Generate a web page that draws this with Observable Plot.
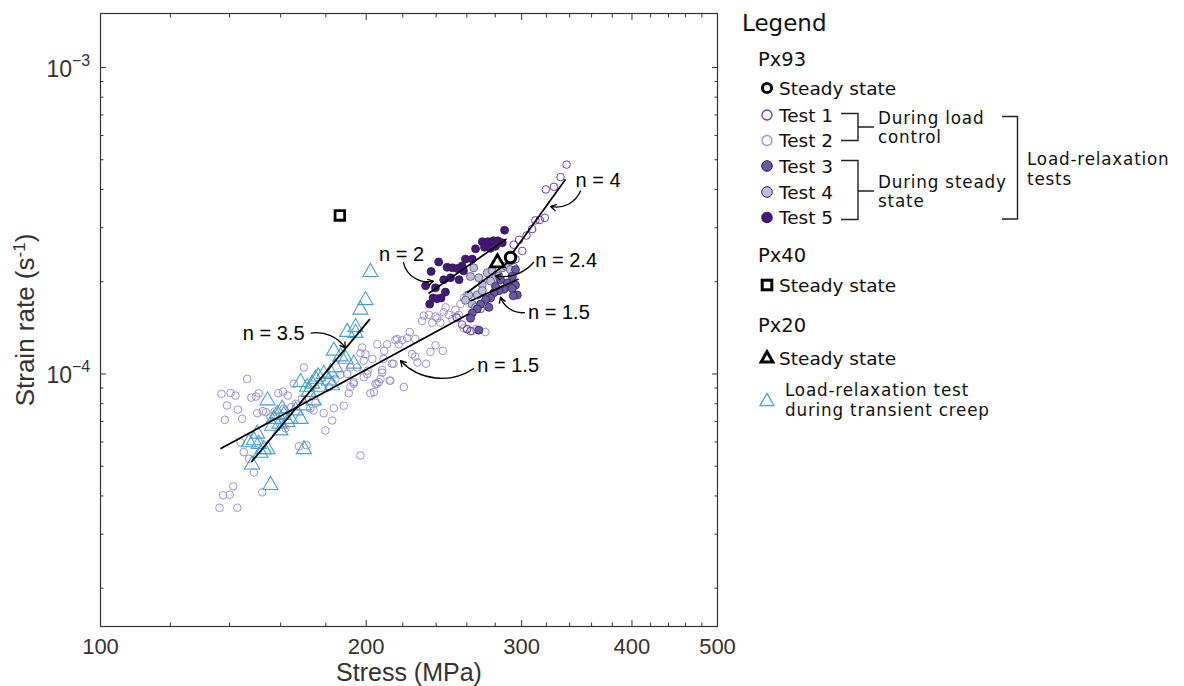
<!DOCTYPE html>
<html><head><meta charset="utf-8">
<script src="https://cdn.jsdelivr.net/npm/d3@7"></script>
<script src="https://cdn.jsdelivr.net/npm/@observablehq/plot@0.6"></script>
<style>
body{margin:0;background:#fff;}
#wrap{position:relative;width:1184px;height:686px;overflow:hidden;background:#fff;}
#chart{position:absolute;left:0;top:0;}
#legend{position:absolute;left:730px;top:0;}
</style></head><body>
<div id="wrap"><div id="chart"></div><svg id="legend" width="454" height="686"></svg></div>
<script>
// ---------------- data (stress in MPa, strain rate in s^-1) ----------------
const test1Stress = [337.3,332.0,326.3,319.5,318.7,314.5,310.9,308.3,303.8,298.0,300.5,295.2,294.0,292.8,269.5,260.2,262.5,256.8,253.1,293.8];
const test1Rate = [48.2e-5,43.9e-5,40.8e-5,40.0e-5,32.3e-5,31.8e-5,31.7e-5,29.7e-5,28.3e-5,27.4e-5,25.2e-5,23.7e-5,22.3e-5,21.3e-5,16.3e-5,14.0e-5,13.8e-5,14.5e-5,15.3e-5,26.4e-5];

const test2Stress = [137.1,140.4,142.2,139.1,143.1,138.3,144.7,146.6,148.2,150.0,151.1,150.5,152.7,154.0,144.1,145.3,147.3,149.2,152.5,141.4,137.7,140.1,136.4,142.9,
  159.0,161.0,163.0,165.6,170.0,161.3,164.5,167.8,171.2,179.8,183.0,183.8,188.6,179.0,
  197.0,200.5,202.2,204.9,206.7,208.5,212.6,214.8,205.8,211.2,215.8,197.9,199.6,203.2,
  191.9,190.3,193.6,191.1,187.0,184.6,181.4,175.2,172.9,169.2,166.4,157.5,155.8,162.0,174.4,
  209.6,216.8,217.7,219.7,224.0,222.6,227.3,231.4,235.5,237.5,240.7,242.7,246.0,248.1,250.3,253.6,258.0,260.2,263.7,
  225.4,227.3,228.6,233.8,236.5,239.6,244.2,213.9,209.2,208.5,207.6,213.0,220.6,205.8,204.0,198.7,198.7,197.0,200.8,193.6,191.9,195.3,
  232.4,239.6,244.8,252.4,255.7,258.0,260.2,254.6,266.3,272.9];
const test2Rate = [8.61e-5,8.67e-5,8.50e-5,7.89e-5,7.65e-5,7.09e-5,7.14e-5,9.64e-5,8.37e-5,8.44e-5,8.65e-5,7.45e-5,7.56e-5,7.50e-5,5.98e-5,5.56e-5,5.29e-5,4.77e-5,4.11e-5,4.30e-5,4.02e-5,4.04e-5,3.66e-5,3.66e-5,
  8.65e-5,8.76e-5,8.50e-5,9.29e-5,10.5e-5,7.70e-5,7.80e-5,5.81e-5,5.85e-5,6.54e-5,7.05e-5,7.73e-5,7.88e-5,7.45e-5,
  5.42e-5,10.0e-5,8.65e-5,9.29e-5,9.40e-5,10.1e-5,9.51e-5,10.8e-5,12.5e-5,12.5e-5,12.9e-5,12.2e-5,11.6e-5,11.2e-5,
  10.5e-5,10.0e-5,9.29e-5,8.65e-5,9.95e-5,9.64e-5,9.07e-5,8.04e-5,7.72e-5,8.31e-5,7.99e-5,7.54e-5,7.25e-5,6.65e-5,7.60e-5,
  11.9e-5,13.0e-5,12.5e-5,12.9e-5,13.7e-5,13.1e-5,13.0e-5,14.9e-5,15.6e-5,14.7e-5,15.2e-5,14.7e-5,16.5e-5,15.6e-5,15.1e-5,15.2e-5,14.1e-5,14.0e-5,13.8e-5,
  11.6e-5,11.4e-5,10.9e-5,10.8e-5,11.8e-5,12.4e-5,11.9e-5,10.8e-5,11.2e-5,10.3e-5,9.64e-5,9.51e-5,9.07e-5,9.29e-5,8.73e-5,9.76e-5,11.05e-5,11.7e-5,10.25e-5,9.40e-5,9.07e-5,10.5e-5,
  15.5e-5,15.4e-5,15.9e-5,16.2e-5,16.9e-5,17.7e-5,18.1e-5,15.6e-5,14.0e-5,13.7e-5];

const test3Stress = [295.2,292.8,289.0,295.2,292.8,296.6,293.5,286.4,282.7,279.0,276.6,273.1,269.5,275.4,267.2,263.7,262.5,283.9,280.2,268.3];
const test3Rate = [21.9e-5,20.8e-5,19.8e-5,19.5e-5,19.0e-5,18.1e-5,18.0e-5,18.9e-5,18.7e-5,18.4e-5,17.7e-5,17.5e-5,16.9e-5,16.5e-5,16.3e-5,15.8e-5,15.2e-5,20.3e-5,19.3e-5,13.9e-5];

const test4Stress = [264.7,262.5,268.3,270.7,274.2,277.8,280.2,282.7,285.2,287.7,291.4,267.2,270.7,261.3,263.7,266.0,259.1,276.6,291.4];
const test4Rate = [22.2e-5,20.8e-5,20.6e-5,19.6e-5,21.4e-5,21.7e-5,20.6e-5,20.9e-5,22.2e-5,22.5e-5,23.4e-5,18.1e-5,18.7e-5,18.1e-5,16.9e-5,16.5e-5,17.4e-5,20.1e-5,21.9e-5];

const test5Stress = [286.9,270.7,274.7,278.6,281.9,285.2,266.0,272.3,276.6,280.2,259.1,241.6,247.0,250.3,253.6,256.8,257.8,263.7,236.9,233.5,239.6,244.8,249.2,245.9,238.1,240.6,243.1,236.0,254.8];
const test5Rate = [29.45e-5,27.0e-5,27.0e-5,27.2e-5,27.2e-5,26.8e-5,25.6e-5,25.9e-5,25.7e-5,26.1e-5,23.7e-5,23.2e-5,22.3e-5,22.2e-5,22.1e-5,22.5e-5,21.7e-5,23.7e-5,21.6e-5,19.4e-5,19.1e-5,20.3e-5,20.6e-5,18.5e-5,17.7e-5,17.6e-5,17.7e-5,16.9e-5,20.3e-5];

const px20Stress = [202.2,199.6,197.0,194.5,190.3,194.5,183.8,187.0,189.5,193.6,184.6,182.2,179.0,176.5,175.2,173.7,183.0,181.4,177.5,171.4,172.1,168.5,174.4,170.0,166.4,168.5,164.2,162.8,161.3,159.6,157.1,156.5,159.9,160.6,154.6,158.6,150.5,149.2,151.1,153.1,151.8,148.5,170.0,155.8,147.3,154.6];
const px20Rate = [21.5e-5,17.4e-5,16.2e-5,14.2e-5,13.7e-5,13.6e-5,11.9e-5,11.4e-5,11.2e-5,10.8e-5,10.5e-5,10.1e-5,10.0e-5,9.8e-5,9.64e-5,9.29e-5,9.18e-5,9.51e-5,9.07e-5,9.07e-5,8.73e-5,9.40e-5,8.19e-5,7.89e-5,7.60e-5,7.13e-5,7.13e-5,6.96e-5,7.34e-5,6.88e-5,7.13e-5,6.77e-5,6.54e-5,7.70e-5,8.19e-5,7.40e-5,6.38e-5,6.07e-5,5.91e-5,5.68e-5,5.53e-5,5.06e-5,5.68e-5,4.34e-5,5.98e-5,5.68e-5];

// steady-state points: Px93 (circle), Px40 (square), Px20 (triangle)
const steadySample = ["Px93","Px40","Px20"];
const steadyStress = [291.4,186.7,281.6];
const steadyRate = [2.40e-4,3.29e-4,2.305e-4];

// fitted power-law segments
const fitN = ["3.5","1.5","2","2.4","1.5","4"];
const fitStress1 = [148.2,136.7,235.3,260.1,262.5,289.9];
const fitRate1 = [5.16e-5,5.70e-5,1.83e-4,1.84e-4,1.73e-4,2.38e-4];
const fitStress2 = [201.9,261.3,288.4,292.2,297.6,336.4];
const fitRate2 = [1.51e-4,1.57e-4,2.76e-4,2.36e-4,2.04e-4,4.32e-4];

// annotations
const noteText = ["n = 3.5","n = 2","n = 4","n = 2.4","n = 1.5","n = 1.5"];
const noteStress = [157.1,219.3,366.1,336.9,330.6,289.6];
const noteRate = [1.354e-4,2.455e-4,4.26e-4,2.34e-4,1.58e-4,1.064e-4];
const arrowFromStress = [173.3,220.4,349.8,309.4,302.2,264.6];
const arrowFromRate = [1.36e-4,2.31e-4,3.95e-4,2.31e-4,1.585e-4,1.04e-4];
const arrowToStress = [189.4,238.3,323.5,280.2,283.9,218.7];
const arrowToRate = [1.215e-4,2.01e-4,3.52e-4,2.09e-4,1.78e-4,1.105e-4];

// axes
const xDomain = [100, 500];
const yDomain = [1.5e-5, 1.5e-3];
const xMajorTicks = [100, 200, 300, 400, 500];
const xMinorTicks = [120,140,160,180,220,240,260,280,320,340,360,380,420,440,460,480];
const yMajorTicks = [1e-4, 1e-3];
const yExponents = ["\u22124", "\u22123"];
const yMinorTicks = [2e-5,3e-5,4e-5,5e-5,6e-5,7e-5,8e-5,9e-5,2e-4,3e-4,4e-4,5e-4,6e-4,7e-4,8e-4,9e-4];
const xLabel = "Stress (MPa)";
const yLabelParts = ["Strain rate (s", "-1", ")"];

// legend texts
const legendTitle = "Legend";
const px93Items = ["Steady state","Test 1","Test 2","Test 3","Test 4","Test 5"];

// ---------------- build ----------------
const rows = (s, r) => s.map((d, i) => ({stress: d, rate: r[i]}));
const test1 = rows(test1Stress, test1Rate);
const test2 = rows(test2Stress, test2Rate);
const test3 = rows(test3Stress, test3Rate);
const test4 = rows(test4Stress, test4Rate);
const test5 = rows(test5Stress, test5Rate);
const px20 = rows(px20Stress, px20Rate);
const steady = steadySample.map((s, i) => ({sample: s, stress: steadyStress[i], rate: steadyRate[i]}));
const fits = fitN.map((n, i) => ({n, s1: fitStress1[i], r1: fitRate1[i], s2: fitStress2[i], r2: fitRate2[i]}));
const notes = noteText.map((t, i) => ({text: t, stress: noteStress[i], rate: noteRate[i],
  s1: arrowFromStress[i], r1: arrowFromRate[i], s2: arrowToStress[i], r2: arrowToRate[i]}));
const yLabelFull = yLabelParts.join("");

const C = {
  axis: "#333333",
  test1: "#6a3db2", test2: "#9c91d6",
  test3: "#6b57a8", test4: "#bebee0", test5: "#45167e",
  px20: "#4b9fcf", dotEdge: "#2a2440"
};
const arrowBends = [32, -45, 40, 30, 38, 40];

const chart = Plot.plot({
  width: 740, height: 686,
  marginLeft: 100, marginRight: 23, marginTop: 13, marginBottom: 60,
  x: {type: "log", domain: xDomain},
  y: {type: "log", domain: yDomain},
  style: {fontFamily: "'Liberation Sans', Arial, Helvetica, sans-serif", color: C.axis, background: "white", overflow: "visible"},
  marks: [
    // ticks (inside, all four sides)
    Plot.axisX(xMinorTicks, {anchor: "bottom", tickSize: -3.5, fill: "none", stroke: C.axis}),
    Plot.axisX(xMajorTicks, {anchor: "bottom", tickSize: -6, fill: "none", stroke: C.axis}),
    Plot.axisX(xMinorTicks, {anchor: "top", tickSize: -3.5, fill: "none", stroke: C.axis}),
    Plot.axisX(xMajorTicks, {anchor: "top", tickSize: -6, fill: "none", stroke: C.axis}),
    Plot.axisY(yMinorTicks, {anchor: "left", tickSize: -3.5, fill: "none", stroke: C.axis}),
    Plot.axisY(yMajorTicks, {anchor: "left", tickSize: -6, fill: "none", stroke: C.axis}),
    Plot.axisY(yMinorTicks, {anchor: "right", tickSize: -3.5, fill: "none", stroke: C.axis}),
    Plot.axisY(yMajorTicks, {anchor: "right", tickSize: -6, fill: "none", stroke: C.axis}),
    // tick labels
    Plot.axisX(xMajorTicks, {anchor: "bottom", tickSize: 0, tickPadding: 12, fontSize: 22, tickFormat: d => String(d), label: null, fill: C.axis}),
    Plot.text(yMajorTicks, {y: d => d, frameAnchor: "left", dx: -28.5, dy: 2, textAnchor: "end", lineAnchor: "middle", text: () => "10", fontSize: 23, fill: C.axis}),
    Plot.text(yMajorTicks, {y: d => d, frameAnchor: "left", dx: -28.5, dy: -7, textAnchor: "start", lineAnchor: "middle", text: (d, i) => yExponents[i], fontSize: 16, fill: C.axis}),
    // axis labels
    Plot.text([xLabel], {frameAnchor: "bottom", dy: 46, textAnchor: "middle", lineAnchor: "middle", text: d => d, fontSize: 25, fill: C.axis}),
    Plot.text([yLabelFull], {frameAnchor: "left", dx: -75, rotate: -90, textAnchor: "middle", lineAnchor: "middle", text: d => d, fontSize: 26, fill: C.axis}),
    Plot.frame({stroke: C.axis, strokeWidth: 1.2}),
    // data
    Plot.dot(test2, {x: "stress", y: "rate", r: 3.8, stroke: C.test2, strokeWidth: 1}),
    Plot.dot(test1, {x: "stress", y: "rate", r: 3.8, stroke: C.test1, strokeWidth: 1}),
    Plot.dot(px20, {x: "stress", y: "rate", r: 5.6, symbol: "triangle", stroke: C.px20, strokeWidth: 1.1}),
    Plot.dot(test5, {x: "stress", y: "rate", r: 4, fill: C.test5, stroke: C.dotEdge, strokeWidth: 0.8}),
    Plot.dot(test4, {x: "stress", y: "rate", r: 4, fill: C.test4, stroke: "#55506a", strokeWidth: 0.8}),
    Plot.dot(test3, {x: "stress", y: "rate", r: 4, fill: C.test3, stroke: C.dotEdge, strokeWidth: 0.8}),
    Plot.link(fits, {x1: "s1", y1: "r1", x2: "s2", y2: "r2", stroke: "black", strokeWidth: 1.7}),
    Plot.dot(steady.filter(d => d.sample === "Px93"), {x: "stress", y: "rate", r: 5.2, fill: "white", stroke: "black", strokeWidth: 3}),
    Plot.dot(steady.filter(d => d.sample === "Px40"), {x: "stress", y: "rate", r: 5.4, symbol: "square", fill: "white", stroke: "black", strokeWidth: 2.8}),
    Plot.dot(steady.filter(d => d.sample === "Px20"), {x: "stress", y: "rate", r: 5.2, symbol: "triangle", fill: "white", stroke: "black", strokeWidth: 2.8}),
    // annotations
    ...notes.map((d, i) => Plot.arrow([d], {x1: "s1", y1: "r1", x2: "s2", y2: "r2", bend: arrowBends[i], stroke: "black", strokeWidth: 1.3, headLength: 7})),
    Plot.text(notes, {x: "stress", y: "rate", text: "text", fontSize: 20, fill: "black"})
  ]
});
document.getElementById("chart").appendChild(chart);

// superscript in the y label
chart.querySelectorAll("text").forEach(t => {
  if (t.textContent === yLabelFull) {
    t.textContent = "";
    const ns = "http://www.w3.org/2000/svg";
    const a = document.createElementNS(ns, "tspan"); a.textContent = yLabelParts[0];
    const b = document.createElementNS(ns, "tspan"); b.textContent = yLabelParts[1];
    b.setAttribute("dy", "-9"); b.setAttribute("font-size", "17");
    const c = document.createElementNS(ns, "tspan"); c.textContent = yLabelParts[2];
    c.setAttribute("dy", "9");
    t.append(a, b, c);
  }
});

// ---------------- legend ----------------
const lg = d3.select("#legend").append("g").attr("transform", "translate(-730,0)")
  .attr("font-family", "'DejaVu Sans', Verdana, sans-serif").attr("fill", "#111");
const T = (x, y, s, size) => lg.append("text").attr("x", x).attr("y", y).attr("font-size", size).text(s);
// two-line label as one text element
const T2 = (x, y, lines, size, gap) => {
  const t = lg.append("text").attr("x", x).attr("y", y).attr("font-size", size).attr("letter-spacing", 0.8);
  lines.forEach((s, i) => t.append("tspan").attr("x", x).attr("dy", i ? gap : 0).text(s));
  return t;
};
const itemSize = 18.5, headSize = 19.5, wrapSize = 16.8, wrapGap = 19.6;
T(742, 31, legendTitle, 23);
T(758, 66, "Px93", headSize);
const rowY = [88, 115, 140.5, 166, 192, 217.5];
const symX = 767;
px93Items.forEach((s, i) => T(779, rowY[i] + 6.6, s, itemSize));
// symbols
lg.append("circle").attr("cx", symX).attr("cy", rowY[0]).attr("r", 4.6).attr("fill", "white").attr("stroke", "black").attr("stroke-width", 3);
lg.append("circle").attr("cx", symX).attr("cy", rowY[1]).attr("r", 5).attr("fill", "none").attr("stroke", C.test1).attr("stroke-width", 1.3);
lg.append("circle").attr("cx", symX).attr("cy", rowY[2]).attr("r", 5).attr("fill", "none").attr("stroke", C.test2).attr("stroke-width", 1.3);
[C.test3, C.test4, C.test5].forEach((c, i) =>
  lg.append("circle").attr("cx", symX).attr("cy", rowY[3 + i]).attr("r", 5.3).attr("fill", c).attr("stroke", C.dotEdge).attr("stroke-width", 1));
// brackets
const br = lg.append("g").attr("fill", "none").attr("stroke", "#222").attr("stroke-width", 1.4);
br.append("path").attr("d", "M841,113.5H858V140.5H841M858,127H874");
br.append("path").attr("d", "M841,160.5H858V219.5H841M858,191H874");
br.append("path").attr("d", "M1002,116.5H1017.5V219H1002");
T2(878, 123.5, ["During load", "control"], wrapSize, wrapGap);
T2(878, 187.5, ["During steady", "state"], wrapSize, wrapGap);
T2(1027, 165, ["Load-relaxation", "tests"], wrapSize, wrapGap);
// Px40
T(758, 262, "Px40", headSize);
lg.append("rect").attr("x", symX - 4.8).attr("y", 285 - 4.8).attr("width", 9.6).attr("height", 9.6)
  .attr("fill", "white").attr("stroke", "black").attr("stroke-width", 3);
T(779, 291.5, "Steady state", itemSize);
// Px20
T(758, 331.5, "Px20", headSize);
lg.append("path").attr("transform", `translate(${symX},358.5)`).attr("d", d3.symbol(d3.symbolTriangle, 60)())
  .attr("fill", "white").attr("stroke", "black").attr("stroke-width", 3);
T(779, 364.5, "Steady state", itemSize);
lg.append("path").attr("transform", `translate(${symX},401.5)`).attr("d", d3.symbol(d3.symbolTriangle, 85)())
  .attr("fill", "none").attr("stroke", C.px20).attr("stroke-width", 1.3);
T2(785, 396, ["Load-relaxation test", "during transient creep"], wrapSize, wrapGap);
</script>
</body></html>
